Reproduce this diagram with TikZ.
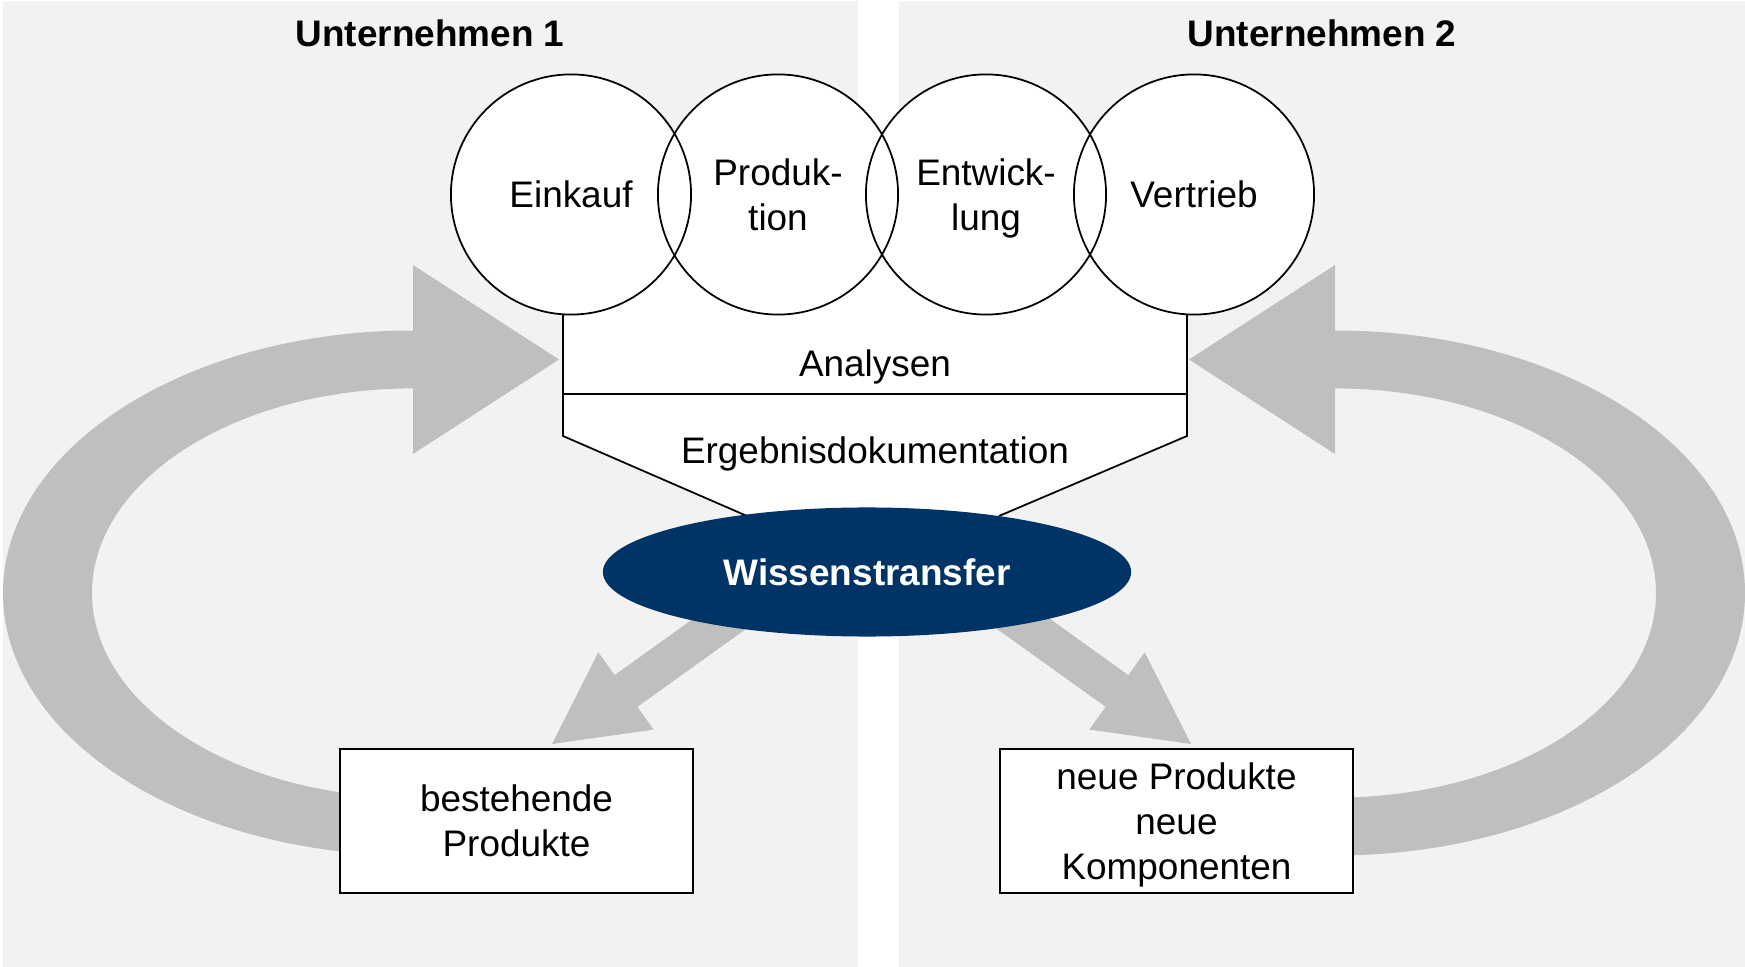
\documentclass[tikz,border=0pt]{standalone}
\usepackage{fontspec}
\setmainfont{Liberation Sans}
\usetikzlibrary{shapes.geometric,arrows.meta}

\definecolor{panelgray}{HTML}{F2F2F2}
\definecolor{loopgray}{HTML}{BFBFBF}
\definecolor{wtblue}{HTML}{003366}

\begin{document}
\begin{tikzpicture}[x=0.01cm, y=0.01cm,
    every node/.style={font=\fontsize{10.5}{12.8}\selectfont},
    title/.style={font=\fontsize{10.5}{12.8}\selectfont\bfseries, anchor=base},
    dept/.style={circle, draw, line width=0.5pt, minimum size=2.4cm, inner sep=0pt, align=center},
    result/.style={rectangle, draw, fill=white, line width=0.6pt, minimum width=3.53cm, minimum height=1.44cm, inner sep=0pt, align=center},
    transfer/.style={loopgray, line width=0.39cm, -{Triangle[width=0.95cm, length=0.91cm, line width=0pt]}}
]
\useasboundingbox (0,0) rectangle (1745,-967);

% panels
\fill[panelgray] (3,-1) rectangle (858,-967);
\fill[panelgray] (899,-1) rectangle (1745,-967);

\node[title] (u1) at (430,-47) {Unternehmen 1};
\node[title] (u2) at (1322,-47) {Unternehmen 2};

% big loops
\fill[loopgray] (413,-388.4) -- (413,-454) -- (559,-359.5) -- (413,-265) -- (413,-330.5)
    arc[start angle=90, end angle=270, x radius=410, y radius=262.5] -- (413,-797.6)
    arc[start angle=270, end angle=90, x radius=321, y radius=204.6] -- cycle;
\fill[loopgray] (1335,-388.4) -- (1335,-454) -- (1189,-359.5) -- (1335,-265) -- (1335,-330.5)
    arc[start angle=90, end angle=-90, x radius=410, y radius=262.5] -- (1335,-797.6)
    arc[start angle=-90, end angle=90, x radius=321, y radius=204.6] -- cycle;

% transfer arrows
\coordinate (wl) at (792,-572);
\coordinate (wr) at (951,-572);
\coordinate (tipl) at (552,-744);
\coordinate (tipr) at (1191,-744);
\draw[transfer] (wl) -- (tipl);
\draw[transfer] (wr) -- (tipr);

% analysis area
\fill[white] (563,-195) -- (563,-436) -- (747,-516) -- (999,-516) -- (1187,-436) -- (1187,-195) -- cycle;
\draw[line width=0.5pt] (563,-314) -- (563,-436) -- (747,-516);
\draw[line width=0.5pt] (1187,-314) -- (1187,-436) -- (999,-516);
\draw[line width=0.6pt] (563,-394) -- (1187,-394);

\foreach \x in {571,778,986,1194}
    \fill[white] (\x,-194.5) circle[radius=120];

\node[dept] (ek) at (571,-194.5) {Einkauf};
\node[dept] (pr) at (778,-194.5) {Produk-\\tion};
\node[dept] (ew) at (986,-194.5) {Entwick-\\lun\smash{g}};
\node[dept] (vt) at (1194,-194.5) {Vertrieb};

\node[anchor=base] (an) at (875,-377) {Analysen};
\node[anchor=base] (ed) at (875,-464) {Ergebnisdokumentation};

\node[ellipse, fill=wtblue, text=white, minimum width=5.28cm, minimum height=1.29cm, inner sep=0pt,
    font=\fontsize{10.5}{12.8}\selectfont\bfseries] (wt) at (867,-572) {Wissenstransfer};

\node[result] (bp) at (516.5,-821) {bestehende\\Produkte};
\node[result] (np) at (1176.5,-821) {neue Produkte\\neue\\Kom\smash{p}onenten};

\end{tikzpicture}
\end{document}
